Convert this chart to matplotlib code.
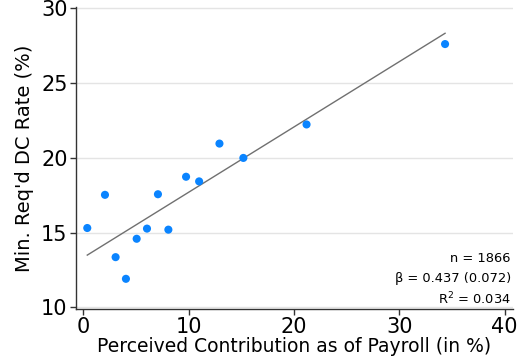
import matplotlib
matplotlib.use("Agg")
import matplotlib.pyplot as plt
import numpy as np

plt.rcParams['font.family'] = ['DejaVu Sans']

# Binned means: perceived contribution vs. minimum required DC rate
perceived = [0.38, 2.06, 3.07, 4.05, 5.07, 6.05, 7.09, 8.08, 9.76, 11.0, 12.93, 15.2, 21.2, 34.35]
min_rate = [15.31, 17.53, 13.36, 11.91, 14.59, 15.27, 17.57, 15.2, 18.74, 18.43, 20.96, 20.0, 22.24, 27.62]

slope = 0.437
slope_se = 0.072
intercept = 13.33
n_obs = 1866
r_squared = 0.034

x_ticks = [0, 10, 20, 30, 40]
y_ticks = [10, 15, 20, 25, 30]

fig = plt.figure(figsize=(5.27, 3.64), dpi=100)
ax = fig.add_axes([76/527, 1 - 309/364, (513 - 76)/527, (309 - 7)/364])

ax.set_xlim(-0.69, 40.8)
ax.set_ylim(9.89, 30.1)

for yt in y_ticks:
    ax.axhline(yt, color='#e4e4e4', lw=1.0, zorder=0)

xs = np.array([min(perceived), max(perceived)])
ax.plot(xs, intercept + slope * xs, color='#707070', lw=1.0, zorder=2)
ax.scatter(perceived, min_rate, s=34, color='#0a84ff', edgecolor='none', zorder=3)

ax.set_xticks(x_ticks)
ax.set_yticks(y_ticks)
ax.tick_params(axis='both', labelsize=15, length=4, width=1, color='#333333', pad=2)
for s in ['top', 'right']:
    ax.spines[s].set_visible(False)
for s in ['left', 'bottom']:
    ax.spines[s].set_color('#333333')
    ax.spines[s].set_linewidth(1.0)

ax.set_xlabel('Perceived Contribution as of Payroll (in %)', fontsize=13.5, labelpad=0)
ax.set_ylabel("Min. Req'd DC Rate (%)", fontsize=14, labelpad=5)

# regression summary, one line per text, right-aligned in the lower corner
stat_lines = [
    f"n = {n_obs}",
    f"β = {slope:.3f} ({slope_se:.3f})",
    f"R$^2$ = {r_squared:.3f}",
]
baselines = [0.156, 0.089, 0.016]
for line, yb in zip(stat_lines, baselines):
    ax.text(0.995, yb, line, transform=ax.transAxes, ha='right', va='baseline',
            fontsize=9.4)

fig.savefig('out.png', dpi=100)
